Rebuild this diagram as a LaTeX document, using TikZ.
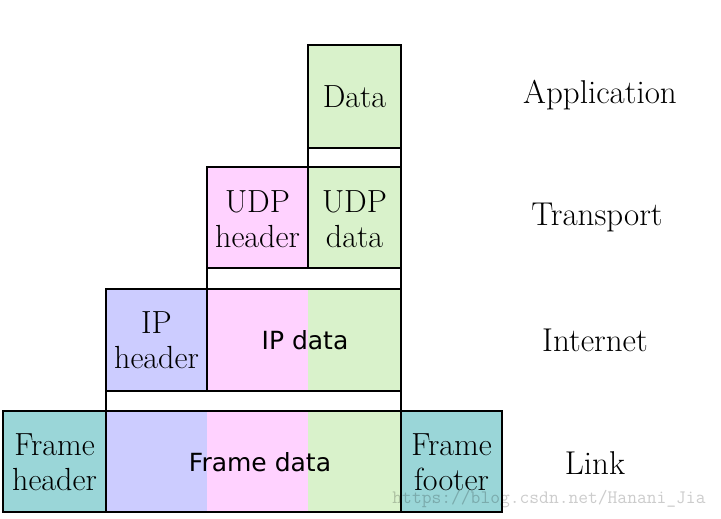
\documentclass[tikz,border=0pt]{standalone}
\usepackage{fontspec}
\newfontfamily\sansfont{DejaVu Sans}
\definecolor{appgreen}{HTML}{D9F2CB}
\definecolor{udppink}{HTML}{FFD2FF}
\definecolor{ipblue}{HTML}{CCCCFF}
\definecolor{frameteal}{HTML}{9AD6D8}
\begin{document}
\begin{tikzpicture}[x=1pt, y=-1pt, line join=miter,
  box/.style={draw, line width=1.7pt},
  serif/.style={font=\fontsize{32}{35}\selectfont, align=center, inner sep=1pt},
  sans/.style={font=\sansfont\fontsize{25}{29}\selectfont, inner sep=1pt},
  layer/.style={font=\fontsize{33}{36}\selectfont, inner sep=1pt}]

\useasboundingbox (0,0) rectangle (721,519);

% Fills
\fill[appgreen] (308,45) rectangle (401,148);
\fill[udppink] (207,167) rectangle (308,268);
\fill[appgreen] (308,167) rectangle (401,268);
\fill[ipblue] (106,289) rectangle (207,391);
\fill[udppink] (207,289) rectangle (308,391);
\fill[appgreen] (308,289) rectangle (401,391);
\fill[frameteal] (3,411) rectangle (106,512);
\fill[ipblue] (106,411) rectangle (207,512);
\fill[udppink] (207,411) rectangle (308,512);
\fill[appgreen] (308,411) rectangle (401,512);
\fill[frameteal] (401,411) rectangle (502,512);

% Application row
\draw[box] (308,45) rectangle (401,148);
\draw[box] (308,148) rectangle (401,167);

% Transport row
\draw[box] (207,167) rectangle (308,268);
\draw[box] (308,167) rectangle (401,268);
\draw[box] (207,268) rectangle (401,289);

% Internet row
\draw[box] (106,289) rectangle (207,391);
\draw[box] (207,289) rectangle (401,391);
\draw[box] (106,391) rectangle (401,411);

% Link row
\draw[box] (3,411) rectangle (106,512);
\draw[box] (106,411) rectangle (401,512);
\draw[box] (401,411) rectangle (502,512);

% Box labels
\node[serif] (data) at (354.5,97) {Data};
\node[serif] (udph) at (257.5,219) {UDP\\header};
\node[serif] (udpd) at (354.5,219) {UDP\\data};
\node[serif] (iph) at (156.5,340) {IP\\header};
\node[sans] (ipd) at (305,340) {IP data};
\node[serif] (frh) at (54.5,462) {Frame\\header};
\node[sans] (frd) at (260,462) {Frame data};
\node[serif] (frf) at (451.5,462) {Frame\\footer};

% Layer names
\node[layer] (app) at (600,95) {Application};
\node[layer] (trans) at (597,217) {Transport};
\node[layer] (inet) at (595,340) {Internet};
\node[layer] (link) at (595,463) {Link};

% Watermark
\node[font=\ttfamily\fontsize{19}{23}\selectfont, text=black, text opacity=0.2, inner sep=0pt] (mark) at (549,499) {https://blog.csdn.net/Hanani\_Jia};

\end{tikzpicture}
\end{document}
